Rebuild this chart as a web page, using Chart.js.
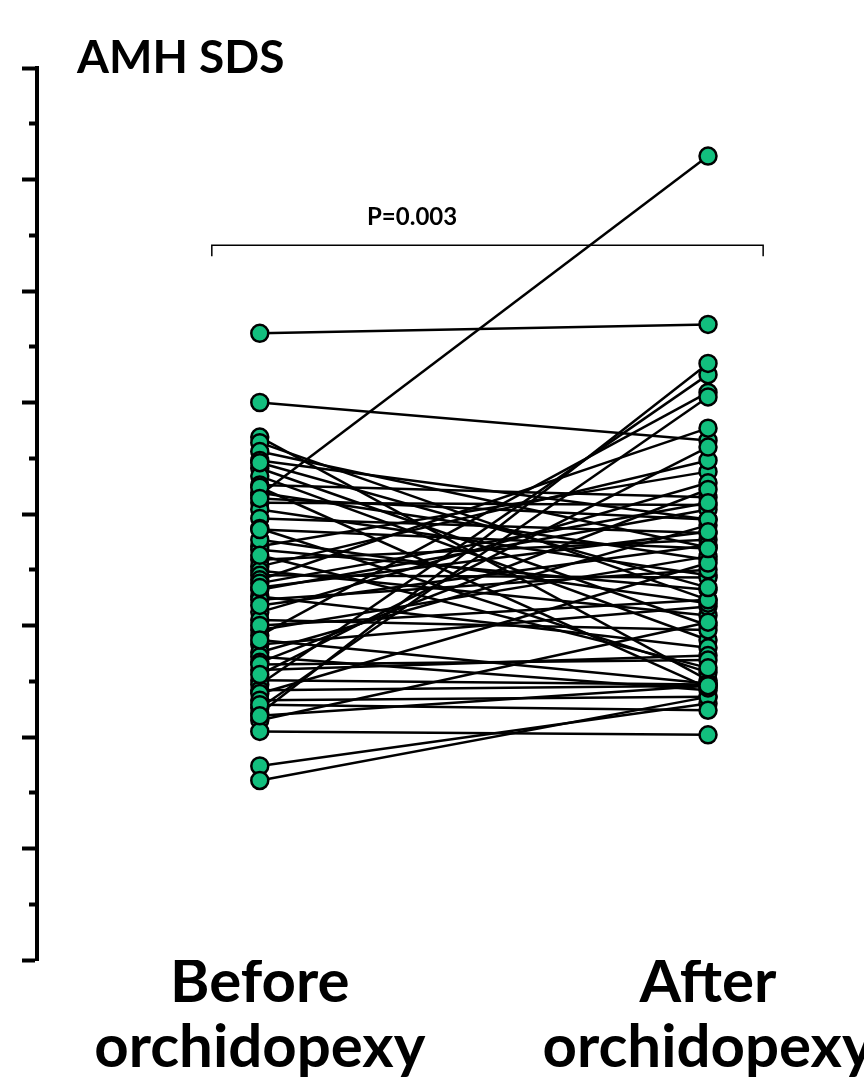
<!DOCTYPE html>
<html>
<head>
<meta charset="utf-8">
<script src="https://cdn.jsdelivr.net/npm/chart.js@4/dist/chart.umd.min.js"></script>
<style>
  html, body { margin: 0; padding: 0; background: #fff; }
  #wrap { position: relative; width: 864px; height: 1079px; overflow: hidden; }
  canvas { display: block; }
  .lbl { position: absolute; font-family: Lato, 'Open Sans', sans-serif; font-weight: 700; color: #000; white-space: nowrap; line-height: 1; }
  #title { left: 77px; top: 33px; font-size: 46px; }
  #pval { left: 367px; top: 204px; font-size: 24px; }
</style>
</head>
<body>
<div id="wrap">
  <canvas id="chart" width="864" height="1079"></canvas>
  <div class="lbl" id="title">AMH SDS</div>
  <div class="lbl" id="pval">P=0.003</div>
</div>
<script>
const groups = [['Before', 'orchidopexy'], ['After', 'orchidopexy']];

// AMH SDS per patient, before and after (same index = same patient)
const before = [
  1.62, 1.00, 0.17, 0.69, 0.64, 0.56, 0.48, 0.41, 0.34, 0.26,
  0.19, 0.10, 0.04, -0.04, -0.13, -0.29, -0.32, -0.41, -0.47, -0.51,
  -0.55, -0.59, -0.68, -0.74, -0.77, -0.88, -0.95, -1.04, -1.09, -1.17,
  -1.24, -1.28, -1.33, -1.40, -1.49, -1.53, -1.58, -1.61, -1.67, -1.74,
  -1.79, -1.85, -1.95, -2.26, -2.39, 0.24, 0.14, -0.23, -0.62, -0.82,
  -1.00, -1.13, -1.35, -1.44, -1.71, -1.81, -0.37, 0.46, -0.14, -0.66
];
const after = [
  1.70, 0.66, 3.21, -1.49, -0.77, -0.30, -0.05, -1.00, -1.13, 0.15,
  -0.41, 0.08, -0.55, -0.17, -1.42, 0.38, -0.68, -0.23, 0.48, -0.91,
  -0.57, 0.77, 0.04, -1.20, -0.50, 0.28, -1.04, -0.38, 1.09, -0.83,
  -0.10, -1.58, 0.22, -1.27, -1.53, 1.25, -1.54, -0.44, -1.64, 1.05,
  1.35, -0.97, -1.98, -1.70, -1.64, -1.56, -0.05, -0.80, 0.10, -0.28,
  -0.77, -1.52, -1.31, 0.60, -1.76, -1.54, -1.38, -0.66, -0.31, -0.16
];

const yMin = -4, yMax = 4, yStep = 0.5;
const bracket = { from: 0.893, to: 2.123, y: 2.41 };

const green = '#12bf7e';

// one line per patient, points drawn on top as one scatter set
const lineSets = before.map((b, i) => ({
  type: 'line',
  data: [{ x: 1, y: b }, { x: 2, y: after[i] }],
  borderColor: '#000',
  borderWidth: 2.5,
  pointRadius: 0,
  fill: false,
  order: 1
}));

const pointSet = {
  type: 'scatter',
  data: before.map(b => ({ x: 1, y: b })).concat(after.map(a => ({ x: 2, y: a }))),
  backgroundColor: green,
  borderColor: '#000',
  borderWidth: 2.5,
  pointRadius: 8.5,
  order: 0
};

const bracketPlugin = {
  id: 'bracket',
  afterDatasetsDraw(chart) {
    const { ctx, scales: { x, y } } = chart;
    const x1 = x.getPixelForValue(bracket.from);
    const x2 = x.getPixelForValue(bracket.to);
    const yy = y.getPixelForValue(bracket.y);
    ctx.save();
    ctx.strokeStyle = '#000';
    ctx.lineWidth = 1.5;
    ctx.beginPath();
    ctx.moveTo(x1, yy + 11);
    ctx.lineTo(x1, yy);
    ctx.lineTo(x2, yy);
    ctx.lineTo(x2, yy + 11);
    ctx.stroke();
    ctx.restore();
  }
};

new Chart(document.getElementById('chart'), {
  data: { datasets: [pointSet].concat(lineSets) },
  options: {
    responsive: false,
    animation: false,
    layout: { autoPadding: false, padding: { left: 22, top: 68, right: 0, bottom: 0 } },
    plugins: { legend: { display: false }, tooltip: { enabled: false } },
    scales: {
      x: {
        type: 'linear',
        min: 0.503,
        max: 2.348,
        afterBuildTicks: s => { s.ticks = [{ value: 1 }, { value: 2 }]; },
        afterFit: s => { s.height = 119; },
        grid: { display: false },
        border: { display: false },
        ticks: {
          autoSkip: false,
          maxRotation: 0,
          padding: -18,
          color: '#000',
          font: { family: 'Lato', weight: 'bold', size: 60, lineHeight: 1.08 },
          callback: v => groups[Math.round(v) - 1] || ''
        }
      },
      y: {
        min: yMin,
        max: yMax,
        afterFit: s => { s.width = 15; },
        border: { display: true, color: '#000', width: 4 },
        grid: {
          drawOnChartArea: false,
          drawTicks: true,
          tickLength: 15,
          tickWidth: 4,
          tickColor: '#000',
          // minor ticks: only the half next to the axis is drawn
          tickBorderDash: c => (c.tick && Number.isInteger(c.tick.value)) ? [] : [0, 7, 9, 40]
        },
        ticks: { stepSize: yStep, padding: 0, callback: () => '' }
      }
    }
  },
  plugins: [bracketPlugin]
});
</script>
</body>
</html>
